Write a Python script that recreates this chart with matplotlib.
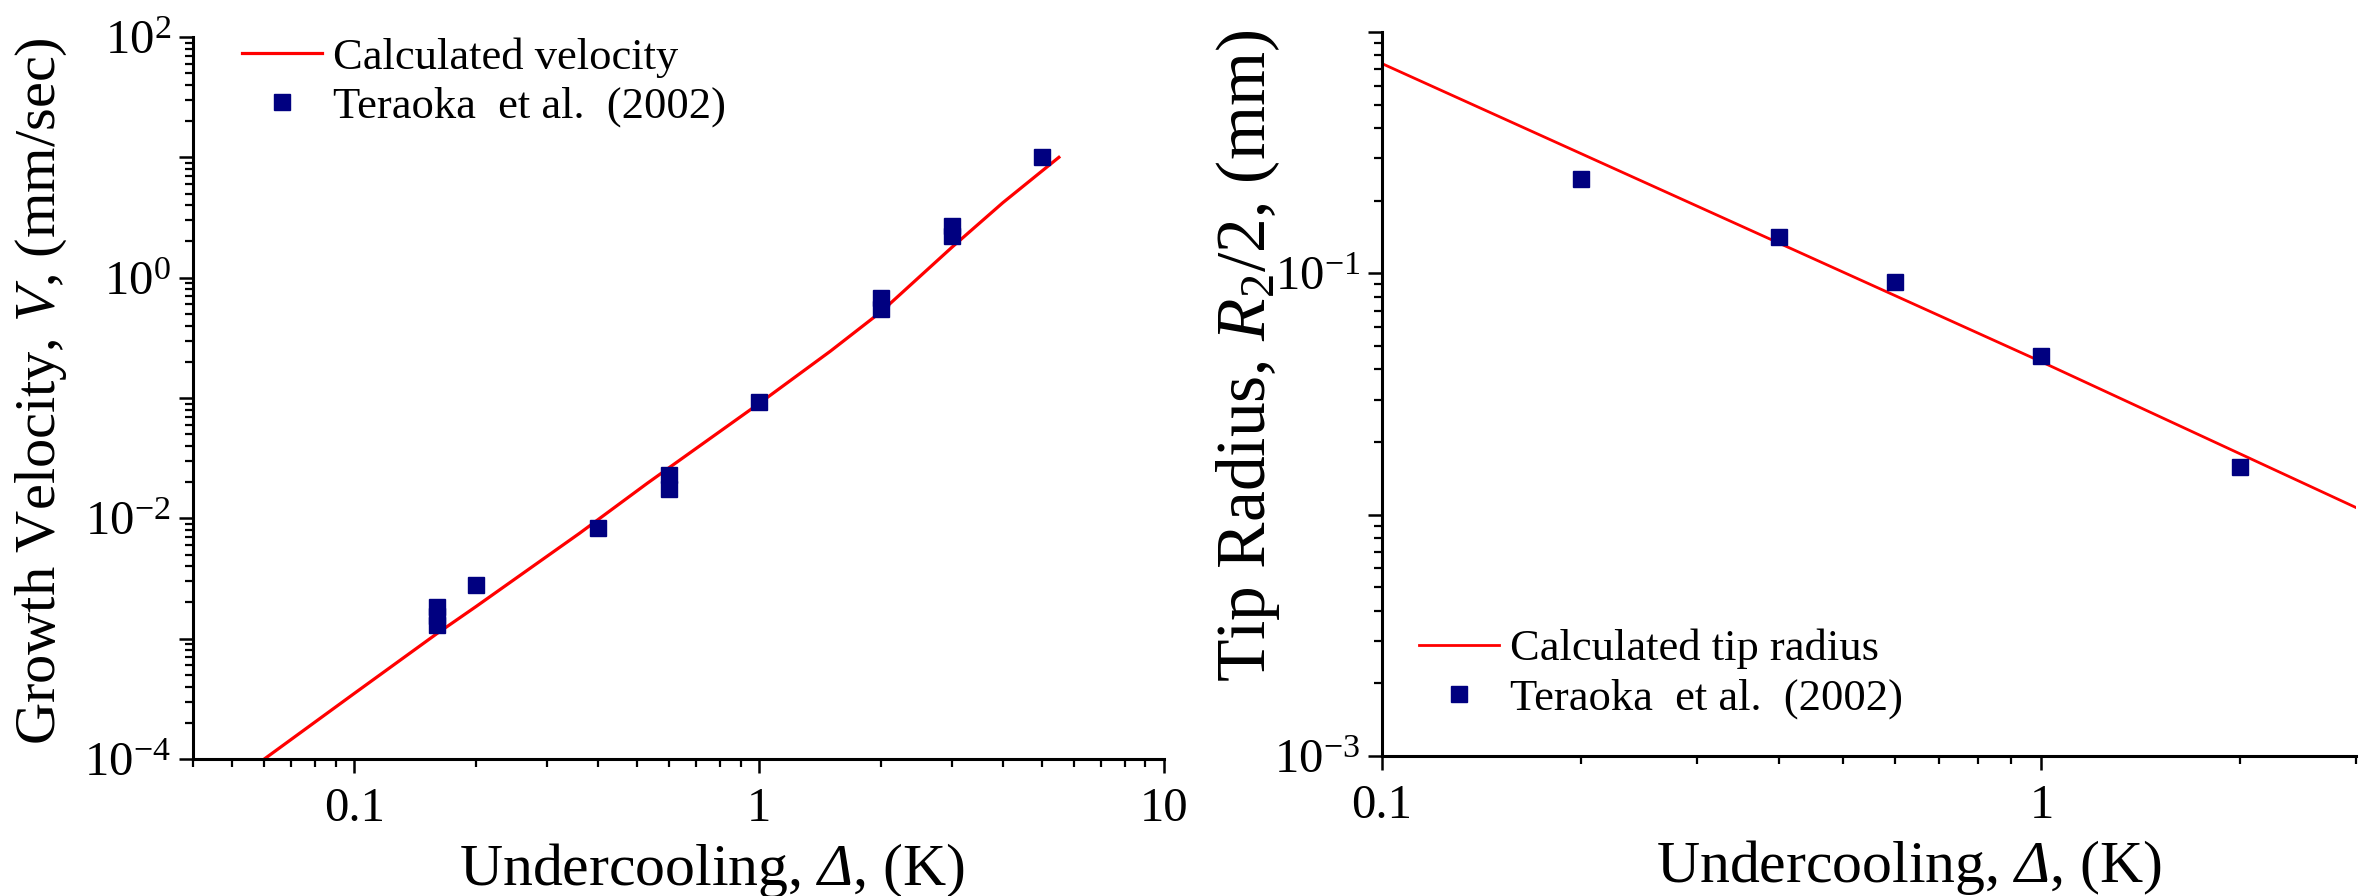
import matplotlib
matplotlib.use("Agg")
import matplotlib.pyplot as plt
from matplotlib.ticker import LogLocator, FuncFormatter, NullFormatter, FixedLocator, FixedFormatter
import numpy as np

plt.rcParams['font.family'] = ['Liberation Serif', 'DejaVu Serif']
plt.rcParams['mathtext.fontset'] = 'custom'
plt.rcParams['mathtext.rm'] = 'Liberation Serif'
plt.rcParams['mathtext.it'] = 'Liberation Serif:italic'
plt.rcParams['mathtext.bf'] = 'Liberation Serif:bold'
# italic greek capital (mathtext forces \mathit greek capitals upright)
plt.rcParams['mathtext.sf'] = 'Liberation Serif:italic'

# left panel: growth velocity vs undercooling
vel_calc_x = [0.06, 0.1, 0.16, 0.2, 0.36, 0.53, 1.0, 1.5, 2.0, 3.0, 4.0, 5.5]
vel_calc_y = [1.0e-4, 3.5e-4, 1.1e-3, 1.85e-3, 7.5e-3, 0.0196, 0.09, 0.245, 0.52, 1.8, 4.2, 10.0]
vel_exp_x = [0.16, 0.16, 0.16, 0.2, 0.4, 0.6, 0.6, 1.0, 2.0, 2.0, 3.0, 3.0, 5.0]
vel_exp_y = [1.3e-3, 1.55e-3, 1.85e-3, 2.8e-3, 8.3e-3, 0.0175, 0.023, 0.092, 0.55, 0.68, 2.2, 2.7, 10.0]

# right panel: tip radius vs undercooling
rad_calc_x = [0.1, 1.0, 3.0]
rad_calc_y = [0.74, 0.043, 0.0107]
rad_exp_x = [0.2, 0.4, 0.6, 1.0, 2.0]
rad_exp_y = [0.245, 0.141, 0.092, 0.0455, 0.0157]

fig = plt.figure(figsize=(23.77, 8.96), dpi=100)
ax1 = fig.add_axes([0.0812, 0.1529, 0.4085, 0.8058])
ax2 = fig.add_axes([0.5814, 0.15625, 0.4098, 0.808])


def dec_fmt(keep):
    def f(v, pos):
        e = int(round(np.log10(v)))
        return r'$10^{%d}$' % e if e in keep else ''
    return f


def style(ax):
    ax.set_xscale('log')
    ax.set_yscale('log')
    for s in ['top', 'right']:
        ax.spines[s].set_visible(False)
    for s in ['left', 'bottom']:
        ax.spines[s].set_linewidth(2.2)
    ax.tick_params(which='major', length=10, width=1.8, labelsize=35, pad=6)
    ax.tick_params(which='minor', length=6, width=1.6)
    ax.tick_params(axis='x', which='major', pad=10)
    ax.yaxis.set_major_locator(LogLocator(base=10, numticks=20))
    ax.yaxis.set_minor_locator(LogLocator(base=10, subs=np.arange(2, 10), numticks=20))
    ax.xaxis.set_minor_locator(LogLocator(base=10, subs=np.arange(2, 10), numticks=20))
    ax.xaxis.set_minor_formatter(NullFormatter())
    ax.yaxis.set_minor_formatter(NullFormatter())


style(ax1)
ax1.plot(vel_calc_x, vel_calc_y, color='red', lw=2.3, label='Calculated velocity')
ax1.plot(vel_exp_x, vel_exp_y, 's', color='#000080', ms=11.5, ls='none', label='Teraoka  et al.  (2002)')
ax1.set_xlim(0.04, 10)
ax1.set_ylim(1e-4, 1e2)
ax1.xaxis.set_major_locator(FixedLocator([0.1, 1, 10]))
ax1.xaxis.set_major_formatter(FixedFormatter(['0.1', '1', '10']))
ax1.yaxis.set_major_formatter(FuncFormatter(dec_fmt([2, 0, -2, -4])))
ax1.set_xlabel(r'Undercooling, $\mathsf{\Delta}$, (K)', fontsize=43)
ax1.set_ylabel(r'Growth Velocity, $V$, (mm/sec)', fontsize=42)
ax1.xaxis.set_label_coords(0.534, -0.113)
ax1.yaxis.set_label_coords(-0.128, 0.51)
ax1.legend(frameon=False, loc='upper left', bbox_to_anchor=(0.050, 1.0), fontsize=32,
           handlelength=1.8, handletextpad=0.25, labelspacing=0.2, borderaxespad=0,
           borderpad=0, numpoints=1)

style(ax2)
ax2.plot(rad_calc_x, rad_calc_y, color='red', lw=2.0, label='Calculated tip radius')
ax2.plot(rad_exp_x, rad_exp_y, 's', color='#000080', ms=11.5, ls='none', label='Teraoka  et al.  (2002)')
ax2.set_xlim(0.1, 3)
ax2.set_ylim(1e-3, 1)
ax2.xaxis.set_major_locator(FixedLocator([0.1, 1]))
ax2.xaxis.set_major_formatter(FixedFormatter(['0.1', '1']))
ax2.yaxis.set_major_formatter(FuncFormatter(dec_fmt([-1, -3])))
ax2.set_xlabel(r'Undercooling, $\mathsf{\Delta}$, (K)', fontsize=43)
ax2.set_ylabel(r'Tip Radius, $R_{2}/2$, (mm)', fontsize=50)
ax2.xaxis.set_label_coords(0.541, -0.113)
ax2.yaxis.set_label_coords(-0.103, 0.552)
ax2.legend(frameon=False, loc='upper left', bbox_to_anchor=(0.038, 0.176), fontsize=32,
           handlelength=1.8, handletextpad=0.25, labelspacing=0.2, borderaxespad=0,
           borderpad=0, numpoints=1)

fig.savefig('out.png', dpi=100)
